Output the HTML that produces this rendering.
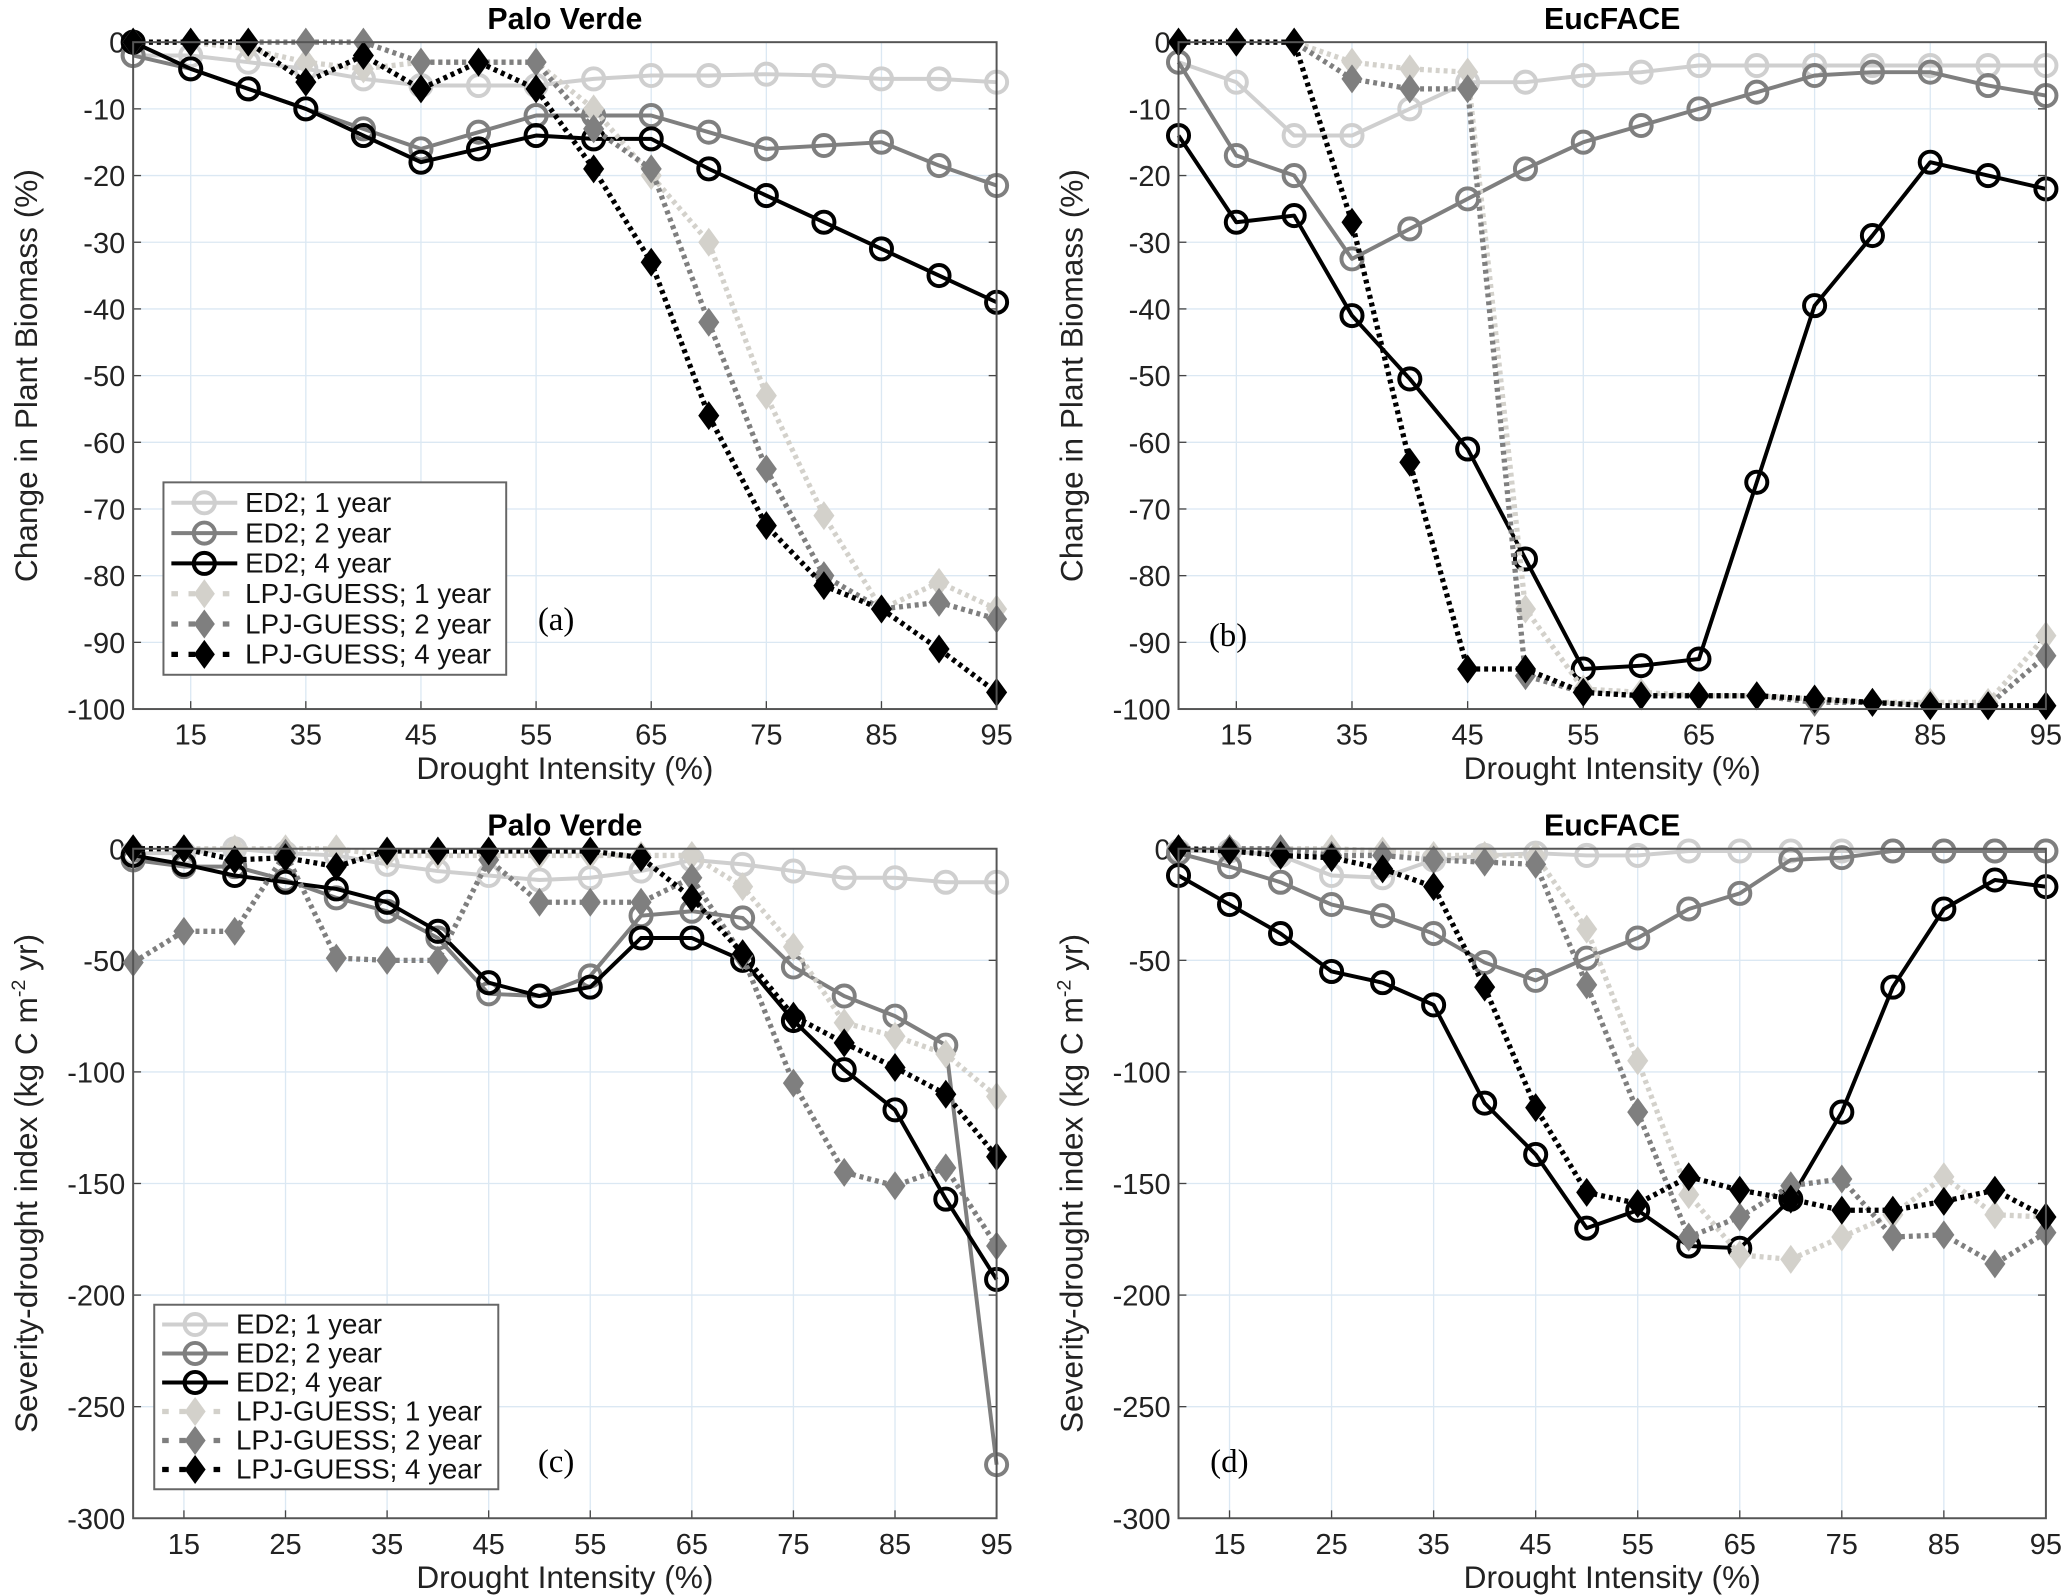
<!DOCTYPE html>
<html><head><meta charset="utf-8"><style>
html,body{margin:0;padding:0;background:#fff;}
svg{display:block;}
text{font-family:"Liberation Sans",sans-serif;}
text.serif{font-family:"Liberation Serif",serif;}
</style></head><body>
<svg id="fig" xmlns="http://www.w3.org/2000/svg" width="2067" height="1596" viewBox="0 0 1568 1211" preserveAspectRatio="none"></svg>
<script>
// ---- data ----
const catsAB = ["10","15","25","35","40","45","50","55","60","65","70","75","80","85","90","95"];
const catsCD = ["10","15","20","25","30","35","40","45","50","55","60","65","70","75","80","85","90","95"];
const ticksAB = [0,-10,-20,-30,-40,-50,-60,-70,-80,-90,-100];
const ticksCD = [0,-50,-100,-150,-200,-250,-300];
const xLabelsAB = ["15","35","45","55","65","75","85","95"];
const xLabelsCD = ["15","25","35","45","55","65","75","85","95"];
const seriesNames = ["ED2; 1 year","ED2; 2 year","ED2; 4 year","LPJ-GUESS; 1 year","LPJ-GUESS; 2 year","LPJ-GUESS; 4 year"];

const aEd1 = [-2,-2,-3,-4,-5.5,-6.5,-6.5,-6.5,-5.5,-5,-5,-4.8,-5,-5.5,-5.5,-6];
const aEd2 = [-2,-4,-7,-10,-13,-16,-13.5,-11,-11,-11,-13.5,-16,-15.5,-15,-18.5,-21.5];
const aEd4 = [0,-4,-7,-10,-14,-18,-16,-14,-14.5,-14.5,-19,-23,-27,-31,-35,-39];
const aLpj1 = [0,0,-1,-3,-4,-3,-3,-3,-10,-20,-30,-53,-71,-85,-81,-85];
const aLpj2 = [0,0,0,0,0,-3,-3,-3,-13,-19,-42,-64,-80,-85,-84,-86.5];
const aLpj4 = [0,0,0,-6,-2,-7,-3,-7,-19,-33,-56,-72.5,-81.5,-85,-91,-97.5];

const bEd1 = [-3,-6,-14,-14,-10,-6,-6,-5,-4.5,-3.5,-3.5,-3.5,-3.5,-3.5,-3.5,-3.5];
const bEd2 = [-3,-17,-20,-32.5,-28,-23.5,-19,-15,-12.5,-10,-7.5,-5,-4.5,-4.5,-6.5,-8];
const bEd4 = [-14,-27,-26,-41,-50.5,-61,-77.5,-94,-93.5,-92.5,-66,-39.5,-29,-18,-20,-22];
const bLpj1 = [0,0,0,-3,-4,-4.5,-85,-97,-97.5,-98,-98,-98.5,-99,-99,-99,-89];
const bLpj2 = [0,0,0,-5.5,-7,-7,-95,-97.5,-98,-98,-98,-99,-99,-99.5,-99.5,-92];
const bLpj4 = [0,0,0,-27,-63,-94,-94,-97.5,-98,-98,-98,-98.5,-99,-99.5,-99.5,-99.5];

const cEd1 = [-2,-2,0,-2,-3,-7,-10,-12,-14,-13,-10,-5,-7,-10,-13,-13,-15,-15];
const cEd2 = [-5,-8,-8,-14,-22,-28,-40,-65,-66,-57,-30,-28,-31,-53,-66,-75,-88,-276];
const cEd4 = [-3,-7,-12,-15,-18,-24,-37,-60,-66,-62,-40,-40,-50,-77,-99,-117,-157,-193];
const cLpj1 = [0,0,0,0,0,-3,-3,-3,-3,-3,-3,-3,-17,-44,-78,-84,-92,-111];
const cLpj2 = [-51,-37,-37,-2,-49,-50,-50,-5,-24,-24,-24,-13,-48,-105,-145,-151,-143,-178];
const cLpj4 = [0,0,-5,-4,-8,-1,-1,-1,-1,-1,-4,-22,-47,-75,-87,-98,-110,-138];

const dEd1 = [-1,-1,-3,-12,-13,-5,-3,-2,-3,-3,-1,-1,-1,-1,-1,-1,-1,-1];
const dEd2 = [-2,-8,-15,-25,-30,-38,-51,-59,-49,-40,-27,-20,-5,-4,-1,-1,-1,-1];
const dEd4 = [-12,-25,-38,-55,-60,-70,-114,-137,-170,-162,-178,-179,-157,-118,-62,-27,-14,-17];
const dLpj1 = [0,0,0,0,-1,-3,-3,-3,-36,-95,-155,-182,-184,-174,-164,-147,-164,-165];
const dLpj2 = [0,0,0,-3,-3,-5,-6,-7,-61,-118,-174,-165,-151,-148,-174,-173,-186,-172];
const dLpj4 = [0,-1,-3,-4,-9,-17,-62,-116,-154,-159,-147,-153,-157,-162,-162,-158,-153,-165];

// ---- drawing ----
const NS = "http://www.w3.org/2000/svg";
const svg = document.getElementById('fig');
function mk(tag, attrs, parent){
  const e = document.createElementNS(NS, tag);
  for (const k in attrs) e.setAttribute(k, attrs[k]);
  (parent||svg).appendChild(e);
  return e;
}
const styles = [
  {c:"#cfcfcf", dash:null, m:"o"},
  {c:"#7f7f7f", dash:null, m:"o"},
  {c:"#000000", dash:null, m:"o"},
  {c:"#d3d1cb", dash:"3,3", m:"d"},
  {c:"#7f7f7f", dash:"3,3", m:"d"},
  {c:"#000000", dash:"3,3", m:"d"}
];
function marker(g, type, x, y, col){
  let e;
  if (type === "o") {
    e = mk('circle', {cx:x, cy:y, r:8, fill:'none', stroke:col, 'stroke-width':3}, g);
    
  } else {
    e = mk('polygon', {points:`${x},${y-11} ${x+8},${y} ${x},${y+11} ${x-8},${y}`, fill:col, stroke:'none'}, g);
    
  }
  
}
function panel(o){
  const g = mk('g', {});
  
  
  const n = o.cats.length;
  const xs = i => o.L + (o.R - o.L) * i / (n - 1);
  const ys = v => o.T + (o.B - o.T) * (v - o.ymax) / (o.ymin - o.ymax);
  o.ticks.forEach(t => {
    const l = mk('line', {x1:o.L, x2:o.R, y1:ys(t), y2:ys(t), stroke:'#dbe8f3', 'stroke-width':1}, g);
    
    
  });
  o.cats.forEach((c, i) => {
    if (o.xLabels.indexOf(c) < 0) return;
    const x = xs(i);
    if (i < n - 1) {
      const l = mk('line', {x1:x, x2:x, y1:o.T, y2:o.B, stroke:'#dbe8f3', 'stroke-width':1}, g);
      
      
    }
    mk('line', {x1:x, x2:x, y1:o.B, y2:o.B-6, stroke:'#444', 'stroke-width':1}, g);
    const t = mk('text', {x:x, y:o.B+27, 'font-size':22, 'text-anchor':'middle', fill:'#222'}, g);
    t.textContent = c;
    
    
  });
  o.ticks.forEach(t => {
    mk('line', {x1:o.L, x2:o.L+6, y1:ys(t), y2:ys(t), stroke:'#444', 'stroke-width':1}, g);
    mk('line', {x1:o.R, x2:o.R-6, y1:ys(t), y2:ys(t), stroke:'#444', 'stroke-width':1}, g);
    const tx = mk('text', {x:o.L-6, y:ys(t)+8, 'font-size':22, 'text-anchor':'end', fill:'#222'}, g);
    tx.textContent = t;
    
    
  });
  o.series.forEach((s, k) => {
    const st = styles[k];
    const sg = mk('g', {}, g);
    
    
    const pts = s.map((v, i) => xs(i) + ',' + ys(v)).join(' ');
    const pl = mk('polyline', {points:pts, fill:'none', stroke:st.c, 'stroke-width': st.dash ? 4 : 3, 'stroke-linejoin':'round'}, sg);
    if (st.dash) pl.setAttribute('stroke-dasharray', st.dash);
    
    
    s.forEach((v, i) => marker(sg, st.m, xs(i), ys(v), st.c));
  });
  const bx = mk('rect', {x:o.L, y:o.T, width:o.R-o.L, height:o.B-o.T, fill:'none', stroke:'#555', 'stroke-width':1.5}, g);
  
  
  const ti = mk('text', {x:(o.L+o.R)/2, y:o.T-10, 'font-size':23, 'font-weight':'bold', 'text-anchor':'middle', fill:'#000'}, g);
  ti.textContent = o.title;
  
  
  const xl = mk('text', {x:(o.L+o.R)/2, y:o.B+53, 'font-size':24, 'text-anchor':'middle', fill:'#222'}, g);
  xl.textContent = 'Drought Intensity (%)';
  
  
  const cy = (o.T+o.B)/2;
  const yl = mk('text', {x:0, y:0, 'font-size':24, 'text-anchor':'middle', fill:'#222', transform:`translate(${o.L-73},${cy}) rotate(-90)`}, g);
  
  
  if (o.sup) {
    yl.appendChild(document.createTextNode('Severity-drought index (kg C m'));
    const sp = mk('tspan', {'font-size':15, dy:-9}, yl); sp.textContent = '-2';
    const sp2 = mk('tspan', {dy:9}, yl); sp2.textContent = ' yr)';
  } else {
    yl.textContent = 'Change in Plant Biomass (%)';
  }
  const pl = mk('text', {x:o.letX, y:o.letY, 'font-size':25, 'class':'serif', fill:'#000'}, g);
  pl.textContent = o.letter;
  
  
  if (o.leg) {
    const lg = mk('g', {}, g);
    
    
    const [lx, ly, lw, lh] = o.leg;
    mk('rect', {x:lx, y:ly, width:lw, height:lh, fill:'#fff', stroke:'#666', 'stroke-width':1.5}, lg);
    const step = (lh - 8) / 6;
    seriesNames.forEach((nm, k) => {
      const st = styles[k];
      const y = ly + 4 + step * (k + 0.5);
      const ln = mk('line', {x1:lx+6, x2:lx+56, y1:y, y2:y, stroke:st.c, 'stroke-width': st.dash?4:3}, lg);
      if (st.dash) ln.setAttribute('stroke-dasharray', '5,8');
      marker(lg, st.m, lx+31, y, st.c);
      const t = mk('text', {x:lx+62, y:y+7, 'font-size':21, fill:'#111'}, lg);
      t.textContent = nm;
      
      
    });
  }
}
panel({name:'panel-a', L:101, R:756, T:32, B:538, ymax:0, ymin:-100, cats:catsAB, ticks:ticksAB, xLabels:xLabelsAB,
  series:[aEd1,aEd2,aEd4,aLpj1,aLpj2,aLpj4], title:'Palo Verde', letter:'(a)', letX:408, letY:478, leg:[124,366,260,146]});
panel({name:'panel-b', L:894, R:1552, T:32, B:538, ymax:0, ymin:-100, cats:catsAB, ticks:ticksAB, xLabels:xLabelsAB,
  series:[bEd1,bEd2,bEd4,bLpj1,bLpj2,bLpj4], title:'EucFACE', letter:'(b)', letX:917, letY:490});
panel({name:'panel-c', L:101, R:756, T:644, B:1152, ymax:0, ymin:-300, cats:catsCD, ticks:ticksCD, xLabels:xLabelsCD,
  series:[cEd1,cEd2,cEd4,cLpj1,cLpj2,cLpj4], title:'Palo Verde', letter:'(c)', letX:408, letY:1117, leg:[117,990,261,140], sup:true});
panel({name:'panel-d', L:894, R:1552, T:644, B:1152, ymax:0, ymin:-300, cats:catsCD, ticks:ticksCD, xLabels:xLabelsCD,
  series:[dEd1,dEd2,dEd4,dLpj1,dLpj2,dLpj4], title:'EucFACE', letter:'(d)', letX:918, letY:1117, sup:true});
</script>
</body></html>
